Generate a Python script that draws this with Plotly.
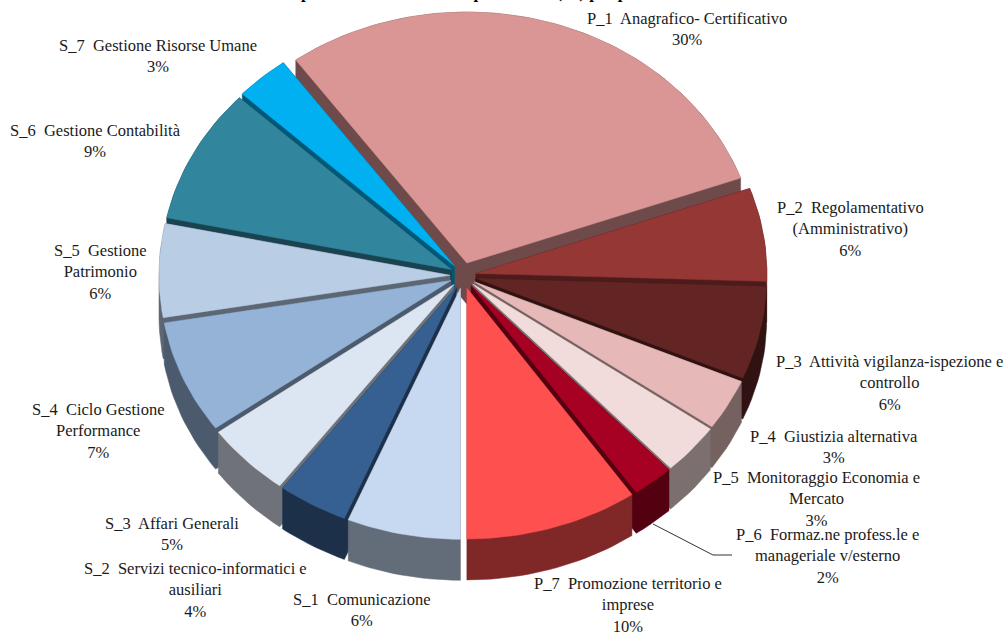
import math
import plotly.graph_objects as go

labels = ["P_1  Anagrafico- Certificativo", "P_2  Regolamentativo<br>(Amministrativo)",
          "P_3  Attività vigilanza-ispezione e<br>controllo", "P_4  Giustizia alternativa",
          "P_5  Monitoraggio Economia e<br>Mercato", "P_6  Formaz.ne profess.le e<br>manageriale v/esterno",
          "P_7  Promozione territorio e<br>imprese", "S_1  Comunicazione",
          "S_2  Servizi tecnico-informatici e<br>ausiliari", "S_3  Affari Generali",
          "S_4  Ciclo Gestione<br>Performance", "S_5  Gestione<br>Patrimonio",
          "S_6  Gestione Contabilità", "S_7  Gestione Risorse Umane"]
values = [29.5, 6.0, 6.0, 3.3, 3.3, 2.3, 9.6, 6.3, 3.9, 4.8, 7.3, 6.0, 8.7, 3.0]
top_colors = ["#D99694", "#953735", "#632523", "#E6B9B8", "#F2DCDB", "#A60023", "#FF5050",
              "#C6D9F1", "#376092", "#DCE6F2", "#95B3D7", "#B9CDE5", "#31859C", "#00B0F0"]
side_colors = ["#6E4B4A", "#4B1C1B", "#2F1211", "#756160", "#7B706F", "#530011", "#802828",
               "#636D79", "#1C304A", "#6F7379", "#4B5A6C", "#5D6773", "#194350", "#005878"]
label_centers = [(687, 29), (850, 229), (889, 383), (834, 447), (816, 499), (827, 556), (628, 605),
                 (361, 610), (195, 590), (172, 534), (98, 431), (100, 272), (95, 141), (158, 56)]

START = 324.0
CX, CY, RX, RY, DEPTH, EXPLODE = 463, 275.5, 291, 251, 41, 13


def sector(a0, a1, ox, oy):
    n = max(2, int((a1 - a0) / 1.5))
    pts = [(ox, oy)]
    for i in range(n + 1):
        t = math.radians(a0 + (a1 - a0) * i / n)
        pts.append((ox + RX * math.sin(t), oy - RY * math.cos(t)))
    return pts


def hull(points):
    pts = sorted(set(points))
    def half(seq):
        out = []
        for p in seq:
            while len(out) >= 2 and (out[-1][0] - out[-2][0]) * (p[1] - out[-2][1]) - (out[-1][1] - out[-2][1]) * (p[0] - out[-2][0]) <= 0:
                out.pop()
            out.append(p)
        return out[:-1]
    return half(pts) + half(pts[::-1])


fig = go.Figure()
total = sum(values)
slices = []
a = START
for i, v in enumerate(values):
    a1 = a + 360 * v / total
    mid = math.radians((a + a1) / 2)
    slices.append((math.cos(mid), i, a, a1, mid))
    a = a1
slices.sort(key=lambda s: -s[0])

for _, i, a0, a1, mid in slices:
    ox = CX + EXPLODE * math.sin(mid)
    oy = CY - EXPLODE * math.cos(mid)
    pts = sector(a0, a1, ox, oy)
    body = hull(pts + [(x, y + DEPTH) for x, y in pts])
    body.append(body[0])
    fig.add_trace(go.Scatter(x=[p[0] for p in body], y=[p[1] for p in body], mode="lines", fill="toself",
                             fillcolor=side_colors[i], line=dict(width=0.5, color=side_colors[i]),
                             hoverinfo="skip", showlegend=False))
    pts.append(pts[0])
    fig.add_trace(go.Scatter(x=[p[0] for p in pts], y=[p[1] for p in pts], mode="lines", fill="toself",
                             fillcolor=top_colors[i], line=dict(width=0.5, color=top_colors[i]),
                             name=labels[i].replace("<br>", " "), showlegend=False))

# leader line for P_6
fig.add_trace(go.Scatter(x=[653, 713, 732], y=[524, 555, 555], mode="lines",
                         line=dict(color="#333333", width=1), hoverinfo="skip", showlegend=False))

for lab, v, (lx, ly) in zip(labels, values, label_centers):
    fig.add_annotation(x=lx, y=ly, xref="x", yref="y", text=f"{lab}<br>{round(v)}%", showarrow=False,
                       align="center", font=dict(family="Liberation Serif", size=16.5, color="#1a1a1a"))

fig.add_annotation(x=482, y=1, xref="x", yref="paper", yanchor="bottom", yshift=-4, showarrow=False,
                   text="<b>Ripartizione del lavoro e spese medie (%) per processo</b>",
                   font=dict(family="Liberation Serif", size=17, color="#000000"))

fig.update_layout(width=1006, height=632, margin=dict(l=0, r=0, t=0, b=0),
                  paper_bgcolor="white", plot_bgcolor="white",
                  xaxis=dict(range=[0, 1006], visible=False),
                  yaxis=dict(range=[632, 0], visible=False))
fig.write_html("out.html", config={"displayModeBar": False},
               post_script="document.body.style.margin='0';document.documentElement.style.overflow='hidden';")
